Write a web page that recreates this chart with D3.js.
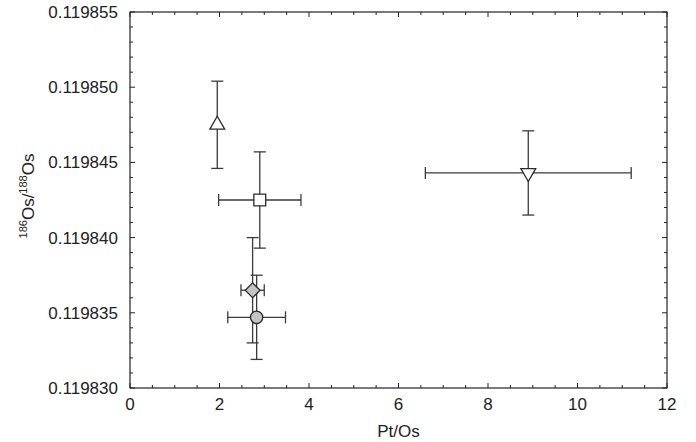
<!DOCTYPE html>
<html>
<head>
<meta charset="utf-8">
<script src="https://cdn.jsdelivr.net/npm/d3@7"></script>
<style>
  body { margin: 0; background: #fff; }
  text { font-family: "Liberation Sans", Arial, sans-serif; fill: #222; }
</style>
</head>
<body>
<script>
// data
const markers = ["triangleUp", "square", "diamond", "circle", "triangleDown"];
const ptOs = [1.95, 2.9, 2.74, 2.83, 8.9];
const ptOsErr = [0, 0.92, 0.26, 0.645, 2.3];
const osRatio = [0.1198475, 0.1198425, 0.1198365, 0.1198347, 0.1198443];
const osRatioErr = [0.0000029, 0.0000032, 0.0000035, 0.0000028, 0.0000028];
const fills = ["#fff", "#fff", "#c4c4c4", "#c4c4c4", "#fff"];
const xTicks = [0, 2, 4, 6, 8, 10, 12];
const yTicks = [0.119830, 0.119835, 0.119840, 0.119845, 0.119850, 0.119855];

window.onload = initPage;

function initPage() {
    const svgInfo = {
        SVG_WIDTH: 696,
        SVG_HEIGHT: 442,
        SVG_ID: "svgVis",
        left: 130,
        right: 667,
        top: 12,
        bottom: 388,
    };
    const svg = d3.select("body")
        .append("svg")
        .attr("width", svgInfo.SVG_WIDTH)
        .attr("height", svgInfo.SVG_HEIGHT)
        .attr("id", svgInfo.SVG_ID);
    drawChart(svg, svgInfo);
}

function drawChart(svg, svgInfo) {
    const x = d3.scaleLinear().domain([0, 12]).range([svgInfo.left, svgInfo.right]);
    const y = d3.scaleLinear().domain([0.119830, 0.119855]).range([svgInfo.bottom, svgInfo.top]);
    const axisColor = "#222";

    // frame
    svg.append("rect")
        .attr("x", svgInfo.left)
        .attr("y", svgInfo.top)
        .attr("width", svgInfo.right - svgInfo.left)
        .attr("height", svgInfo.bottom - svgInfo.top)
        .attr("fill", "none")
        .attr("stroke", axisColor)
        .attr("stroke-width", 1.2);

    // inward ticks on all four sides
    const xMinor = d3.range(0, 12.001, 0.5);
    const yMinor = d3.range(0, 26).map((i) => 0.119830 + i * 0.000001);
    const tickG = svg.append("g").attr("stroke", axisColor).attr("stroke-width", 1);
    xMinor.forEach((v, i) => {
        const len = i % 4 === 0 ? 5 : 3;
        tickG.append("line").attr("x1", x(v)).attr("x2", x(v))
            .attr("y1", svgInfo.bottom).attr("y2", svgInfo.bottom - len);
        tickG.append("line").attr("x1", x(v)).attr("x2", x(v))
            .attr("y1", svgInfo.top).attr("y2", svgInfo.top + len);
    });
    yMinor.forEach((v, i) => {
        const len = i % 5 === 0 ? 5 : 3;
        tickG.append("line").attr("y1", y(v)).attr("y2", y(v))
            .attr("x1", svgInfo.left).attr("x2", svgInfo.left + len);
        tickG.append("line").attr("y1", y(v)).attr("y2", y(v))
            .attr("x1", svgInfo.right).attr("x2", svgInfo.right - len);
    });

    // tick labels
    svg.append("g").selectAll("text")
        .data(xTicks)
        .enter()
        .append("text")
        .attr("x", (d) => x(d))
        .attr("y", svgInfo.bottom + 22)
        .attr("text-anchor", "middle")
        .attr("font-size", 17)
        .text((d) => d);
    const fmt = d3.format(".6f");
    svg.append("g").selectAll("text")
        .data(yTicks)
        .enter()
        .append("text")
        .attr("x", svgInfo.left - 12)
        .attr("y", (d) => y(d))
        .attr("dy", "0.35em")
        .attr("text-anchor", "end")
        .attr("font-size", 17)
        .text((d) => fmt(d));

    // axis titles
    svg.append("text")
        .attr("x", (svgInfo.left + svgInfo.right) / 2)
        .attr("y", 437)
        .attr("text-anchor", "middle")
        .attr("font-size", 17)
        .text("Pt/Os");
    const yTitle = svg.append("text")
        .attr("transform", "translate(34,196) rotate(-90)")
        .attr("text-anchor", "middle")
        .attr("font-size", 17);
    yTitle.append("tspan").attr("font-size", 11).attr("dy", -7).text("186");
    yTitle.append("tspan").attr("dy", 7).text("Os/");
    yTitle.append("tspan").attr("font-size", 11).attr("dy", -7).text("188");
    yTitle.append("tspan").attr("dy", 7).text("Os");

    // error bars
    const data = markers.map((m, i) => ({
        marker: m, x: ptOs[i], xe: ptOsErr[i], y: osRatio[i], ye: osRatioErr[i], fill: fills[i],
    }));
    const cap = 6;
    const errG = svg.append("g").attr("stroke", "#3a3a3a").attr("stroke-width", 1.3);
    data.forEach((d) => {
        const cx = x(d.x), cy = y(d.y);
        const y1 = y(d.y + d.ye), y2 = y(d.y - d.ye);
        errG.append("line").attr("x1", cx).attr("x2", cx).attr("y1", y1).attr("y2", y2);
        errG.append("line").attr("x1", cx - cap).attr("x2", cx + cap).attr("y1", y1).attr("y2", y1);
        errG.append("line").attr("x1", cx - cap).attr("x2", cx + cap).attr("y1", y2).attr("y2", y2);
        if (d.xe > 0) {
            const x1 = x(d.x - d.xe), x2 = x(d.x + d.xe);
            errG.append("line").attr("x1", x1).attr("x2", x2).attr("y1", cy).attr("y2", cy);
            errG.append("line").attr("x1", x1).attr("x2", x1).attr("y1", cy - cap).attr("y2", cy + cap);
            errG.append("line").attr("x1", x2).attr("x2", x2).attr("y1", cy - cap).attr("y2", cy + cap);
        }
    });

    // markers
    const symbolFor = {
        triangleUp: d3.symbol().type(d3.symbolTriangle).size(95),
        triangleDown: d3.symbol().type(d3.symbolTriangle).size(95),
        square: d3.symbol().type(d3.symbolSquare).size(140),
        diamond: d3.symbol().type(d3.symbolSquare).size(110),
        circle: d3.symbol().type(d3.symbolCircle).size(120),
    };
    const rotateFor = { triangleUp: 0, triangleDown: 180, square: 0, diamond: 45, circle: 0 };
    svg.append("g").selectAll("path")
        .data(data)
        .enter()
        .append("path")
        .attr("d", (d) => symbolFor[d.marker]())
        .attr("transform", (d) => `translate(${x(d.x)},${y(d.y)}) rotate(${rotateFor[d.marker]})`)
        .attr("fill", (d) => d.fill)
        .attr("stroke", "#2a2a2a")
        .attr("stroke-width", 1.3);
}
</script>
</body>
</html>
